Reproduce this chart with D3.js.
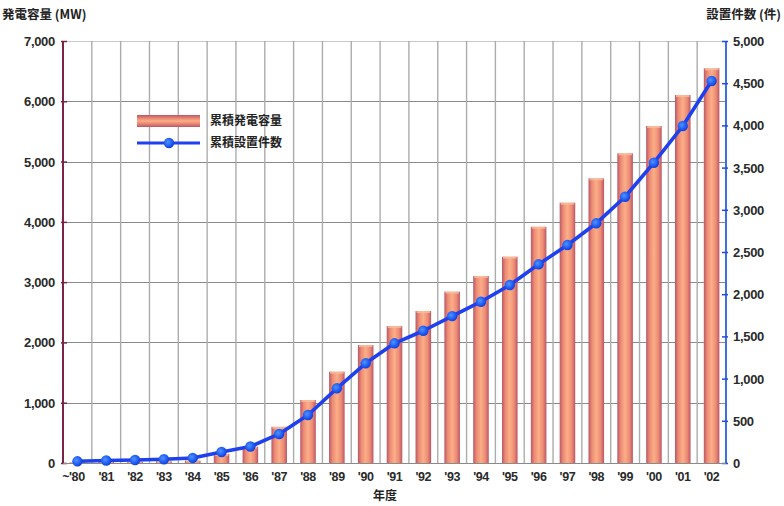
<!DOCTYPE html>
<html>
<head>
<meta charset="utf-8">
<script src="https://cdn.jsdelivr.net/npm/d3@7"></script>
<style>
  html, body { margin: 0; padding: 0; background: #fff; }
  svg { display: block; }
  text { font-family: "Liberation Sans", "Noto Sans CJK JP", sans-serif; fill: #222; }
  .jp { font-family: "Noto Sans CJK JP", sans-serif; font-weight: 700; }
</style>
</head>
<body>
<svg id="chart" width="784" height="506"></svg>
<script>
// Fiscal years on the x axis
const years = ["~'80", "'81", "'82", "'83", "'84", "'85", "'86", "'87", "'88", "'89", "'90",
               "'91", "'92", "'93", "'94", "'95", "'96", "'97", "'98", "'99", "'00", "'01", "'02"];
// Cumulative generating capacity (MW), left axis
const capacityMW = [10, 15, 20, 30, 40, 150, 270, 600, 1045, 1515, 1957,
                    2272, 2521, 2842, 3102, 3422, 3919, 4318, 4722, 5137, 5590, 6104, 6547];
// Cumulative number of installations (件), right axis
const installCount = [20, 30, 35, 45, 60, 130, 195, 344, 569, 885, 1181,
                      1418, 1567, 1740, 1911, 2109, 2354, 2583, 2840, 3155, 3558, 3993, 4526];
const leftTicks = [0, 1000, 2000, 3000, 4000, 5000, 6000, 7000];
const rightTicks = [0, 500, 1000, 1500, 2000, 2500, 3000, 3500, 4000, 4500, 5000];
const legendLabels = ["累積発電容量", "累積設置件数"];

const svg = d3.select("#chart");
const m = { left: 63, right: 726, top: 41, bottom: 463 };

const x = d3.scaleBand().domain(years).range([m.left, m.right]).paddingInner(0.46).paddingOuter(0.23);
const xStep = (m.right - m.left) / years.length;
const xc = d => x(d) + x.bandwidth() / 2;
const yL = d3.scaleLinear().domain([0, 7000]).range([m.bottom, m.top]);
const yR = d3.scaleLinear().domain([0, 5000]).range([m.bottom, m.top]);

const defs = svg.append("defs");
const barGrad = defs.append("linearGradient").attr("id", "barGrad").attr("x1", 0).attr("x2", 1).attr("y1", 0).attr("y2", 0);
[[0, "#bb5668"], [0.22, "#ec8c74"], [0.5, "#fcae88"], [0.78, "#ec8c74"], [1, "#bb5668"]]
  .forEach(([o, c]) => barGrad.append("stop").attr("offset", o).attr("stop-color", c));
const legGrad = defs.append("linearGradient").attr("id", "legGrad").attr("x1", 0).attr("x2", 0).attr("y1", 0).attr("y2", 1);
[[0, "#bb5668"], [0.3, "#ec8c74"], [0.5, "#fcae88"], [0.7, "#ec8c74"], [1, "#bb5668"]]
  .forEach(([o, c]) => legGrad.append("stop").attr("offset", o).attr("stop-color", c));
const dotGrad = defs.append("radialGradient").attr("id", "dotGrad").attr("cx", 0.4).attr("cy", 0.4).attr("r", 0.6);
[[0, "#5592ff"], [0.6, "#2262f4"], [1, "#1440dc"]]
  .forEach(([o, c]) => dotGrad.append("stop").attr("offset", o).attr("stop-color", c));

// Grid: horizontal lines every 1,000 MW, vertical lines between years
svg.append("g").selectAll("line").data(leftTicks.slice(1)).join("line")
  .attr("x1", m.left).attr("x2", m.right)
  .attr("y1", d => Math.round(yL(d)) + 0.5).attr("y2", d => Math.round(yL(d)) + 0.5)
  .attr("stroke", d => d === 7000 ? "#c8c8c8" : "#8a8a8a").attr("stroke-width", 1.2);
svg.append("g").selectAll("line").data(d3.range(1, years.length)).join("line")
  .attr("x1", i => m.left + i * xStep).attr("x2", i => m.left + i * xStep)
  .attr("y1", m.top).attr("y2", m.bottom)
  .attr("stroke", "#acacac").attr("stroke-width", 1.4);

// Bars
svg.append("g").selectAll("rect").data(capacityMW).join("rect")
  .attr("x", (d, i) => x(years[i])).attr("width", x.bandwidth())
  .attr("y", d => yL(d)).attr("height", d => m.bottom - yL(d))
  .attr("fill", "url(#barGrad)");
svg.append("g").selectAll("rect").data(capacityMW).join("rect")
  .attr("x", (d, i) => x(years[i]) + 1).attr("width", x.bandwidth() - 2)
  .attr("y", d => yL(d)).attr("height", d => Math.min(2, m.bottom - yL(d)))
  .attr("fill", "#f8bea0").attr("opacity", 0.8);

// Left axis
const axL = svg.append("g").attr("transform", `translate(${m.left},0)`)
  .call(d3.axisLeft(yL).tickValues(leftTicks).tickSize(5).tickFormat(d3.format(",")));
axL.select(".domain").attr("stroke", "#7a2446").attr("stroke-width", 2).attr("d", `M0,${m.top}V${m.bottom}`);
axL.selectAll(".tick line").attr("stroke", "#7a2446").attr("stroke-width", 1.5).attr("x2", 4).attr("x1", -2);
axL.selectAll(".tick text").attr("x", -8).attr("dy", "0.35em")
  .style("font-size", "13px").style("font-weight", "700").style("fill", "#2a2a2a").style("letter-spacing", "-0.3px");

// Right axis
const axR = svg.append("g").attr("transform", `translate(${m.right},0)`)
  .call(d3.axisRight(yR).tickValues(rightTicks).tickSize(5).tickFormat(d3.format(",")));
axR.select(".domain").attr("stroke", "#3c6ee6").attr("stroke-width", 2).attr("d", `M0,${m.top}V${m.bottom}`);
axR.selectAll(".tick line").attr("stroke", "#1f4fd8").attr("stroke-width", 1.5).attr("x1", -4).attr("x2", 2);
axR.selectAll(".tick text").attr("x", 7).attr("dy", "0.35em")
  .style("font-size", "13px").style("font-weight", "700").style("fill", "#2a2a2a").style("letter-spacing", "-0.3px");

// Baseline and x labels
svg.append("line").attr("x1", m.left).attr("x2", m.right).attr("y1", m.bottom + 0.5).attr("y2", m.bottom + 0.5)
  .attr("stroke", "#8a8a8a").attr("stroke-width", 1);
const axX = svg.append("g").attr("transform", `translate(0,${m.bottom})`)
  .call(d3.axisBottom(x).tickSize(0).tickPadding(9));
axX.select(".domain").remove();
axX.selectAll(".tick text").style("font-size", "12.5px").style("font-weight", "700").style("fill", "#2a2a2a")
  .style("letter-spacing", "-0.4px").attr("dx", (d, i) => i === 0 ? "-4" : "0");

// Line with markers
const line = d3.line().x((d, i) => xc(years[i])).y(d => yR(d));
svg.append("path").datum(installCount).attr("d", line)
  .attr("fill", "none").attr("stroke", "#1e40ee").attr("stroke-width", 3.6).attr("stroke-linejoin", "round");
svg.append("g").selectAll("circle").data(installCount).join("circle")
  .attr("cx", (d, i) => xc(years[i])).attr("cy", d => yR(d)).attr("r", 5.2)
  .attr("fill", "url(#dotGrad)");

// Axis titles
svg.append("text").attr("class", "jp").attr("x", 2).attr("y", 19).style("font-size", "12.5px").text("発電容量 (MW)");
svg.append("text").attr("class", "jp").attr("x", 781).attr("y", 19).attr("text-anchor", "end").style("font-size", "12.5px").text("設置件数 (件)");
svg.append("text").attr("class", "jp").attr("x", 385).attr("y", 500).attr("text-anchor", "middle").style("font-size", "12px").text("年度");

// Legend
const lg = svg.append("g");
lg.append("rect").attr("x", 137).attr("y", 115).attr("width", 63).attr("height", 12).attr("fill", "url(#legGrad)");
lg.append("line").attr("x1", 137).attr("x2", 200).attr("y1", 143).attr("y2", 143).attr("stroke", "#1e40ee").attr("stroke-width", 3.2);
lg.append("circle").attr("cx", 169).attr("cy", 143).attr("r", 5.2).attr("fill", "url(#dotGrad)");
lg.selectAll("text").data(legendLabels).join("text").attr("class", "jp")
  .attr("x", 210).attr("y", (d, i) => 121 + i * 22).attr("dy", "0.35em")
  .style("font-size", "12px").text(d => d);
</script>
</body>
</html>
